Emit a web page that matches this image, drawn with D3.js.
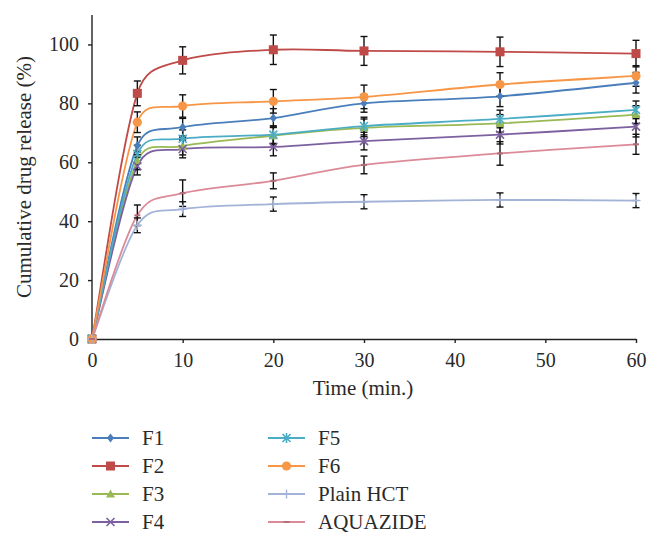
<!DOCTYPE html>
<html>
<head>
<meta charset="utf-8">
<script src="https://cdn.jsdelivr.net/npm/d3@7"></script>
<style>
  html, body { margin: 0; padding: 0; background: #fff; }
  svg text { font-family: "Liberation Serif", "DejaVu Serif", serif; fill: #2a2a2a; }
</style>
</head>
<body>
<svg id="chart" width="658" height="545"></svg>
<script>
// ---- data ----
const time = [0, 5, 10, 20, 30, 45, 60];
const seriesNames = ["F1", "F2", "F3", "F4", "F5", "F6", "Plain HCT", "AQUAZIDE"];
const F1 = [0, 65.6, 71.9, 75.0, 80.0, 82.4, 87.0];
const F2 = [0, 83.4, 94.6, 98.2, 97.8, 97.5, 96.9];
const F3 = [0, 60.5, 65.5, 69.0, 71.7, 73.2, 76.2];
const F4 = [0, 58.7, 64.5, 65.2, 67.2, 69.4, 72.1];
const F5 = [0, 62.8, 68.0, 69.4, 72.3, 74.7, 77.8];
const F6 = [0, 73.6, 79.1, 80.7, 82.2, 86.4, 89.3];
const plainHCT = [0, 38.6, 44.1, 45.8, 46.6, 47.2, 47.0];
const aquazide = [0, 42.0, 49.5, 53.7, 59.1, 63.0, 66.1];
const errF1 = [0, 3.0, 3.0, 3.2, 3.0, 3.5, 3.5];
const errF2 = [0, 4.2, 4.6, 5.0, 4.9, 5.0, 4.5];
const errF3 = [0, 3.0, 3.0, 3.0, 3.0, 3.0, 3.0];
const errF4 = [0, 3.0, 3.0, 3.0, 3.0, 3.2, 3.5];
const errF5 = [0, 3.0, 3.0, 3.0, 3.0, 3.0, 3.0];
const errF6 = [0, 3.5, 3.8, 4.0, 4.0, 4.0, 3.5];
const errHCT = [0, 2.5, 2.5, 2.4, 2.4, 2.4, 2.4];
const errAQ = [0, 3.5, 4.5, 2.7, 3.0, 4.0, 3.4];
const yTicks = [0, 20, 40, 60, 80, 100];
const xTicks = [0, 10, 20, 30, 40, 50, 60];
const xTitle = "Time (min.)";
const yTitle = "Cumulative drug release (%)";

const colors = ["#4a7ebb", "#be4b48", "#98b954", "#7d60a0", "#4bacc6", "#f79646", "#a3b3d8", "#dc8a98"];
const markers = ["diamond", "square", "triangle", "x", "star", "circle", "plus", "dash"];
const values = [F1, F2, F3, F4, F5, F6, plainHCT, aquazide];
const errors = [errF1, errF2, errF3, errF4, errF5, errF6, errHCT, errAQ];

const series = seriesNames.map((name, i) => ({
  name, color: colors[i], marker: markers[i],
  points: time.map((t, j) => ({ t, v: values[i][j], e: errors[i][j] }))
}));

// ---- Excel-like smoothed curve (Catmull-Rom tangents, clamped control distance) ----
function curveSmoothClamped(context) {
  let pts = [];
  return {
    areaStart() {}, areaEnd() {},
    lineStart() { pts = []; },
    point(px, py) { pts.push([+px, +py]); },
    lineEnd() {
      const n = pts.length;
      if (!n) return;
      context.moveTo(pts[0][0], pts[0][1]);
      if (n === 1) return;
      const tang = pts.map((p, i) => {
        const a = pts[Math.max(0, i - 1)], b = pts[Math.min(n - 1, i + 1)];
        return [(b[0] - a[0]) / 6, (b[1] - a[1]) / 6];
      });
      const k = 0.5;
      for (let i = 0; i < n - 1; i++) {
        const p = pts[i], q = pts[i + 1];
        const seg = Math.hypot(q[0] - p[0], q[1] - p[1]);
        let t1 = tang[i], t2 = tang[i + 1];
        const l1 = Math.hypot(t1[0], t1[1]), l2 = Math.hypot(t2[0], t2[1]);
        const s1 = l1 > k * seg ? (k * seg) / l1 : 1;
        const s2 = l2 > k * seg ? (k * seg) / l2 : 1;
        context.bezierCurveTo(p[0] + t1[0] * s1, p[1] + t1[1] * s1,
                              q[0] - t2[0] * s2, q[1] - t2[1] * s2, q[0], q[1]);
      }
    }
  };
}

// ---- layout ----
const svg = d3.select("#chart");
const x = d3.scaleLinear().domain([0, 60]).range([92, 636]);
const y = d3.scaleLinear().domain([0, 110]).range([339, 15]);
const FS = 20;

// axes
const xAxis = svg.append("g").attr("transform", `translate(0,${y(0)})`)
  .call(d3.axisBottom(x).tickValues(xTicks).tickSize(4).tickSizeOuter(0));
xAxis.select(".domain").attr("stroke", "#222").attr("stroke-width", 1.4);
xAxis.selectAll(".tick line").attr("stroke", "#222").attr("stroke-width", 1.4);
xAxis.selectAll(".tick text").attr("y", 28).attr("dy", 0)
  .style("font-size", FS + "px").style("font-family", "Liberation Serif");

const yAxis = svg.append("g").attr("transform", `translate(${x(0)},0)`)
  .call(d3.axisLeft(y).tickValues(yTicks).tickSize(4).tickSizeOuter(0));
yAxis.select(".domain").attr("d", `M0,${y(0)}V${y(110)}`).attr("stroke", "#222").attr("stroke-width", 1.4);
yAxis.selectAll(".tick line").attr("stroke", "#222").attr("stroke-width", 1.4);
yAxis.selectAll(".tick text").attr("x", -13).attr("dy", "0.32em")
  .style("font-size", FS + "px").style("font-family", "Liberation Serif");

svg.append("text").attr("x", 363).attr("y", 395).attr("text-anchor", "middle")
  .style("font-size", "21px").text(xTitle);
svg.append("text").attr("transform", `translate(31,177) rotate(-90)`).attr("text-anchor", "middle")
  .style("font-size", "21px").text(yTitle);

// lines
const line = d3.line().x(d => x(d.t)).y(d => y(d.v)).curve(curveSmoothClamped);
const plot = svg.append("g");
series.forEach(s => {
  plot.append("path").attr("d", line(s.points)).attr("fill", "none")
    .attr("stroke", s.color).attr("stroke-width", 1.8);
});

// error bars
const eb = svg.append("g").attr("stroke", "#111").attr("stroke-width", 1.4);
series.forEach(s => {
  s.points.filter(p => p.e > 0).forEach(p => {
    const cx = x(p.t), y1 = y(p.v + p.e), y2 = y(p.v - p.e);
    eb.append("line").attr("x1", cx).attr("x2", cx).attr("y1", y1).attr("y2", y2);
    eb.append("line").attr("x1", cx - 3.5).attr("x2", cx + 3.5).attr("y1", y1).attr("y2", y1);
    eb.append("line").attr("x1", cx - 3.5).attr("x2", cx + 3.5).attr("y1", y2).attr("y2", y2);
  });
});

function drawMarker(g, type, cx, cy, color) {
  switch (type) {
    case "diamond":
      g.append("path").attr("d", `M${cx},${cy - 4.5}L${cx + 3.5},${cy}L${cx},${cy + 4.5}L${cx - 3.5},${cy}Z`).attr("fill", color);
      break;
    case "square":
      g.append("rect").attr("x", cx - 4.5).attr("y", cy - 4.5).attr("width", 9).attr("height", 9).attr("fill", color);
      break;
    case "triangle":
      g.append("path").attr("d", `M${cx},${cy - 4.5}L${cx + 4.5},${cy + 3.5}L${cx - 4.5},${cy + 3.5}Z`).attr("fill", color);
      break;
    case "x":
      g.append("path").attr("d", `M${cx - 4},${cy - 4}L${cx + 4},${cy + 4}M${cx - 4},${cy + 4}L${cx + 4},${cy - 4}`).attr("stroke", color).attr("stroke-width", 1.6);
      break;
    case "star":
      g.append("path").attr("d", `M${cx - 4},${cy - 4}L${cx + 4},${cy + 4}M${cx - 4},${cy + 4}L${cx + 4},${cy - 4}M${cx},${cy - 5}V${cy + 5}`).attr("stroke", color).attr("stroke-width", 1.6);
      break;
    case "circle":
      g.append("circle").attr("cx", cx).attr("cy", cy).attr("r", 4.6).attr("fill", color);
      break;
    case "plus":
      g.append("path").attr("d", `M${cx - 4.5},${cy}H${cx + 4.5}M${cx},${cy - 4.5}V${cy + 4.5}`).attr("stroke", color).attr("stroke-width", 1.4);
      break;
    case "dash":
      g.append("path").attr("d", `M${cx - 3},${cy}H${cx + 3}`).attr("stroke", d3.color(color).darker(0.6)).attr("stroke-width", 2);
      break;
  }
}

const mk = svg.append("g");
series.forEach(s => {
  s.points.forEach(p => drawMarker(mk, s.marker, x(p.t), y(p.v), s.color));
});

// legend
const legend = svg.append("g");
series.forEach((s, i) => {
  const col = Math.floor(i / 4), row = i % 4;
  const lx = col === 0 ? 92 : 268;
  const ly = 438 + row * 28;
  legend.append("line").attr("x1", lx).attr("x2", lx + 37).attr("y1", ly).attr("y2", ly)
    .attr("stroke", s.color).attr("stroke-width", 2);
  drawMarker(legend, s.marker, lx + 18.5, ly, s.color);
  legend.append("text").attr("x", lx + 50).attr("y", ly + 7).style("font-size", "21px").text(s.name);
});
</script>
</body>
</html>
